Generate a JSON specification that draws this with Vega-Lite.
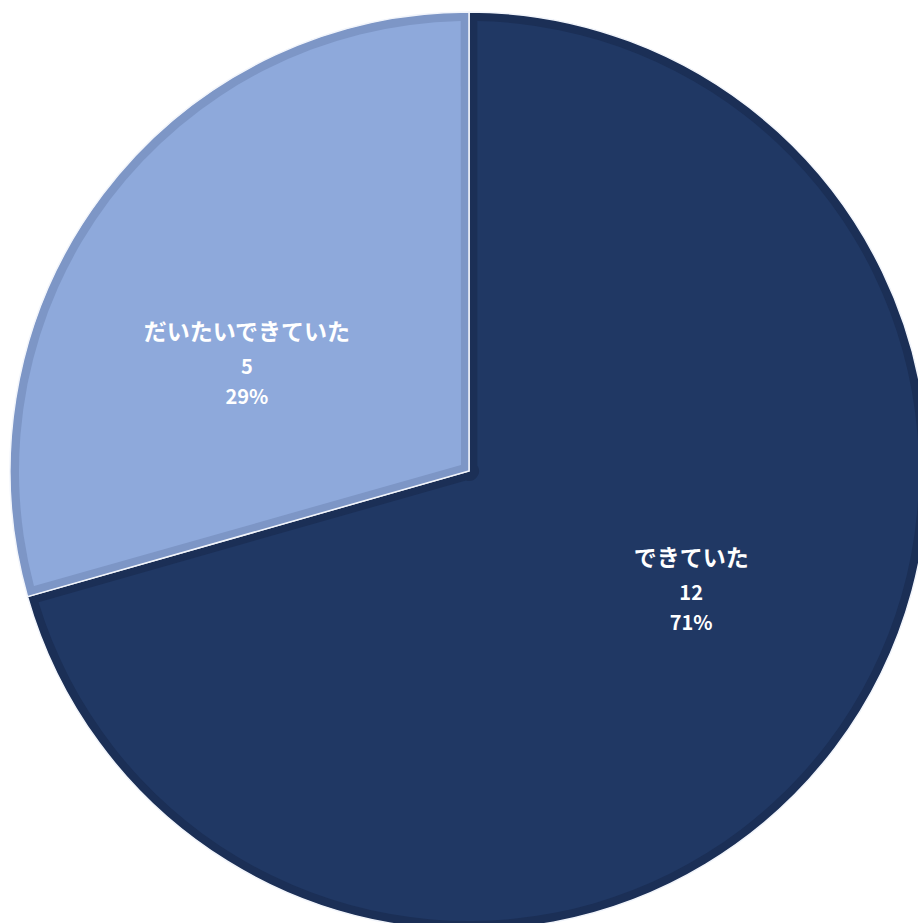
{
  "$schema": "https://vega.github.io/schema/vega-lite/v6.json",
  "width": 938,
  "height": 942,
  "autosize": "none",
  "padding": 0,
  "background": "white",
  "view": {"stroke": null},
  "data": {
    "values": [
      {"cat": "できていた", "n": 12, "pct": "71%", "o": 1},
      {"cat": "だいたいできていた", "n": 5, "pct": "29%", "o": 2}
    ]
  },
  "encoding": {
    "theta": {"field": "n", "type": "quantitative", "stack": true},
    "order": {"field": "o", "type": "quantitative"}
  },
  "layer": [
    {
      "mark": {"type": "arc", "outerRadius": 459, "stroke": "#f2f5fb", "strokeWidth": 1.5},
      "encoding": {
        "color": {"field": "cat", "type": "nominal", "legend": null,
          "scale": {"domain": ["できていた", "だいたいできていた"], "range": ["#1b2f56", "#7d96c6"]}}
      }
    },
    {
      "mark": {"type": "arc", "outerRadius": 450, "innerRadius": 10, "padAngle": 0.037},
      "encoding": {
        "fill": {"field": "cat", "type": "nominal", "legend": null,
          "scale": {"domain": ["できていた", "だいたいできていた"], "range": ["#203864", "#8ea9db"]}}
      }
    },
    {
      "mark": {"type": "text", "radius": 249, "thetaOffset": -0.178, "dy": -25, "font": "Noto Sans CJK JP", "fontWeight": "bold", "fontSize": 23, "fill": "white", "baseline": "middle", "align": "center"},
      "encoding": {"text": {"field": "cat"}}
    },
    {
      "mark": {"type": "text", "radius": 249, "thetaOffset": -0.178, "dy": 10, "font": "Noto Sans CJK JP", "fontWeight": "bold", "fontSize": 20, "fill": "white", "baseline": "middle", "align": "center"},
      "encoding": {"text": {"field": "n"}}
    },
    {
      "mark": {"type": "text", "radius": 249, "thetaOffset": -0.178, "dy": 40, "font": "Noto Sans CJK JP", "fontWeight": "bold", "fontSize": 20, "fill": "white", "baseline": "middle", "align": "center"},
      "encoding": {"text": {"field": "pct"}}
    }
  ],
  "resolve": {"scale": {"color": "independent", "fill": "independent"}}
}
